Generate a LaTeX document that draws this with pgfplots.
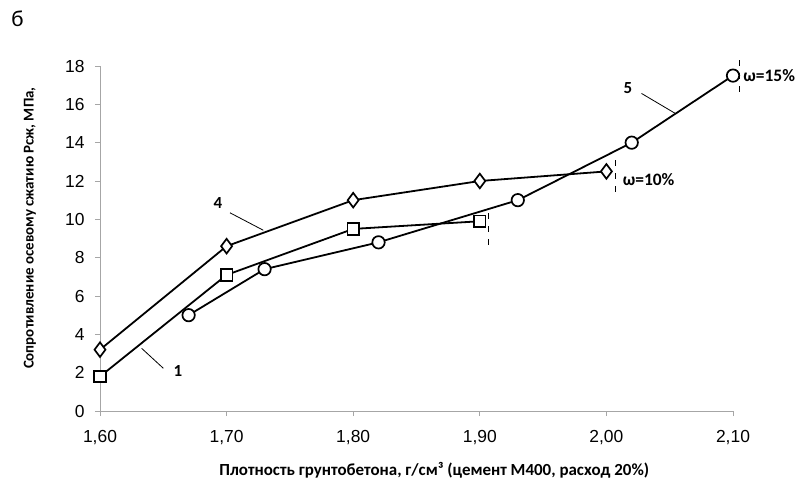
\documentclass[border=0pt]{standalone}
\usepackage{fontspec}
\setmainfont{Liberation Sans}
\newfontfamily\calb{Carlito}
\usepackage{pgfplots}
\pgfplotsset{compat=1.18}
\begin{document}
\begin{tikzpicture}
\path[use as bounding box] (-100bp,-73bp) rectangle (697bp,411bp);
\begin{axis}[
  at={(0,0)}, anchor=south west,
  scale only axis, width=633bp, height=345bp,
  xmin=1.6, xmax=2.1, ymin=0, ymax=18,
  axis lines*=left,
  axis line style={gray!70, line width=0.8pt, -},
  tick style={gray!70, line width=0.8pt},
  tick align=outside, major tick length=5bp,
  xtick={1.6,1.7,1.8,1.9,2.0,2.1},
  ytick={0,2,...,18},
  x tick label style={/pgf/number format/fixed, /pgf/number format/fixed zerofill,
    /pgf/number format/precision=2, /pgf/number format/use comma,
    /pgf/number format/assume math mode=true, yshift=-11bp},
  y tick label style={/pgf/number format/assume math mode=true, xshift=-7bp},
  ticklabel style={font=\fontsize{17.5}{20}\selectfont},
  xlabel={\calb\bfseries Плотность грунтобетона, г/см³ (цемент М400, расход 20\%)},
  ylabel={\calb\bfseries Сопротивление осевому сжатию Рсж, МПа,},
  xlabel style={at={(axis description cs:0.528,-0.171)}, anchor=center, font=\fontsize{17}{19}\selectfont},
  ylabel style={at={(axis description cs:-0.1106,0.53)}, anchor=center, font=\fontsize{15}{17}\selectfont},
  clip=false,
  every axis plot/.append style={black, line width=1.8bp, mark options={fill=white, solid, line width=1.7bp}},
]
% curve 4 (diamonds)
\addplot[mark=diamond*, mark size=7.3bp] coordinates {
  (1.60,3.2) (1.70,8.6) (1.80,11.0) (1.90,12.0) (2.00,12.5)};
% curve 1 (squares)
\addplot[mark=square*, mark size=5.8bp] coordinates {
  (1.60,1.8) (1.70,7.1) (1.80,9.5) (1.90,9.9)};
% curve 5 (circles)
\addplot[mark=*, mark size=6.2bp] coordinates {
  (1.67,5.0) (1.73,7.4) (1.82,8.8) (1.93,11.0) (2.02,14.0) (2.10,17.5)};

% leaders and labels
\draw[line width=0.8bp] (axis cs:1.7027,10.34) -- (axis cs:1.729,9.43);
\node[font=\calb\bfseries\fontsize{17}{19}\selectfont] at (axis cs:1.6932,10.85) {4};
\draw[line width=0.8bp] (axis cs:1.6329,3.27) -- (axis cs:1.650,2.23);
\node[font=\calb\bfseries\fontsize{17}{19}\selectfont] at (axis cs:1.6616,2.1) {1};
\draw[line width=0.8bp] (axis cs:2.0277,16.57) -- (axis cs:2.0543,15.53);
\node[font=\calb\bfseries\fontsize{17}{19}\selectfont] at (axis cs:2.017,16.85) {5};

% moisture limits
\draw[line width=1bp, dash pattern=on 6bp off 7bp] (axis cs:1.9067,10.33) -- (axis cs:1.9067,8.31);
\draw[line width=1bp, dash pattern=on 6bp off 7bp] (axis cs:2.0068,13.09) -- (axis cs:2.0068,11.1);
\draw[line width=1bp, dash pattern=on 6bp off 7bp] (axis cs:2.105,18.3) -- (axis cs:2.105,16.3);
\node[anchor=west, inner sep=0pt, font=\calb\bfseries\fontsize{17.5}{19}\selectfont] at (axis cs:2.0128,12.09) {ω=10\%};
\node[anchor=west, inner sep=0pt, font=\calb\bfseries\fontsize{17.5}{19}\selectfont] at (axis cs:2.1081,17.5) {ω=15\%};
\end{axis}
\node[font=\calb\fontsize{23}{25}\selectfont] at (-82.5bp,392bp) {б};
\end{tikzpicture}
\end{document}
